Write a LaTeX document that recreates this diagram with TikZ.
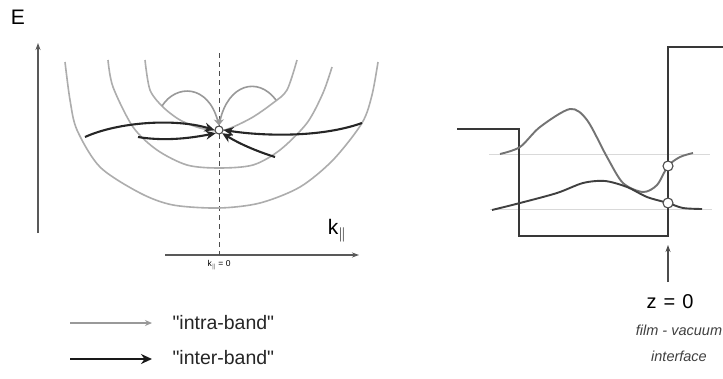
\documentclass[tikz,border=0pt]{standalone}
\usepackage{fontspec}
\setmainfont{Liberation Sans}
\usetikzlibrary{arrows.meta,positioning}

\begin{document}
\begin{tikzpicture}[
    x=1pt, y=-1pt,
    band/.style={draw=black!32, line width=1.6pt},
    intra/.style={draw=black!40, line width=1.6pt, -{Stealth[length=7pt,width=7pt]}},
    inter/.style={draw=black!85, line width=2.1pt, -{Stealth[length=10pt,width=9pt]}},
    axis/.style={draw=black!65, line width=1.1pt, -{Stealth[length=7pt,width=5pt]}},
    well/.style={draw=black!78, line width=2.5pt},
    wave/.style={line width=1.9pt},
    level/.style={draw=black!15, line width=0.9pt},
    dot/.style={circle, draw=black!70, fill=white, line width=1.1pt, inner sep=0pt, minimum size=#1},
    dot/.default=9pt,
    big/.style={font=\fontsize{20}{22}\selectfont},
    legend/.style={font=\fontsize{19.5}{21}\selectfont, anchor=west, text=black!85}
]
\useasboundingbox[fill=white] (0,0) rectangle (723,378);

% --- band structure E(k)
\coordinate (eo) at (38,233);
\coordinate (et) at (38,43);
\coordinate (ko) at (165,255);
\coordinate (kt) at (359,255);
\draw[axis] (eo) -- (et);
\draw[axis] (ko) -- (kt);
\node[font=\fontsize{21}{23}\selectfont] (elabel) at (18,17) {E};
\node[font=\fontsize{21}{23}\selectfont] (klabel) at (337,231) {k$_{\|}$};
\node[font=\fontsize{8.5}{9}\selectfont, below=2pt of ko, xshift=54pt] (kzero) {k$_{\|}$ = 0};

\coordinate (dtop) at (219,53);
\coordinate (dbot) at (219,255);
\draw[black!70, line width=1pt, dash pattern=on 5pt off 4pt] (dtop) -- (dbot);

\draw[band] plot[smooth] coordinates {(65,62) (70,100) (77,130) (100,167) (140,193) (173,205) (219,208) (260,203) (300,187) (333,160) (362,123) (372,95) (378,62)};
\draw[band] plot[smooth] coordinates {(108,60) (113,87) (133,127) (157,150) (187,165) (219,168) (253,165) (280,150) (307,123) (323,93) (332,67)};
\draw[band] plot[smooth] coordinates {(145,60) (150,90) (163,107) (180,120) (200,128) (219,131) (233,127) (253,117) (273,103) (287,90) (297,60)};

\node[dot=8pt] (ctr) at (219,130) {};

% intra-band
\coordinate (l1) at (162,106);
\coordinate (r1) at (276,100);
\draw[intra] (l1) .. controls (176,84) and (208,84) .. (ctr.north);
\draw[intra] (r1) .. controls (258,76) and (228,84) .. (ctr.north);

% inter-band
\coordinate (a1) at (85,137);
\coordinate (a2) at (138,137);
\coordinate (b1) at (362,123);
\coordinate (b2) at (275,157);
\draw[inter] (a1) .. controls (118,122) and (175,118) .. (ctr.west);
\draw[inter] (a2) .. controls (168,142) and (196,137) .. (ctr.south west);
\draw[inter] (b1) .. controls (320,138) and (262,136) .. (ctr.east);
\draw[inter] (b2) .. controls (256,151) and (240,144) .. (ctr.south east);

% --- legend
\coordinate (ga) at (70,323);
\coordinate (gb) at (152,323);
\coordinate (ba) at (70,359);
\coordinate (bb) at (152,359);
\draw[draw=black!40, line width=1.6pt, -{Stealth[length=7pt,width=6pt]}] (ga) -- (gb);
\draw[draw=black!90, line width=2.6pt, -{Stealth[length=11pt,width=10pt]}] (ba) -- (bb);
\node[legend] (intratxt) at (169,323) {\textquotedbl intra-band\textquotedbl};
\node[legend] (intertxt) at (169,358) {\textquotedbl inter-band\textquotedbl};

% --- quantum well
\draw[level] (489,154) -- (710,154);
\draw[level] (490,209) -- (712,209);
\draw[well] (457,129) -- (519,129) -- (519,236) -- (668,236) -- (668,47) -- (723,47);

\draw[wave, black!55] plot[smooth] coordinates {(500,154) (520,147) (540,127) (570,109) (587,120) (607,157) (623,183) (643,192) (657,185) (668,166) (680,157) (693,153)};
\draw[wave, black!75] plot[smooth] coordinates {(492,210) (520,203) (557,193) (583,183) (605,181) (627,187) (647,197) (668,203) (683,208) (702,209)};

\node[dot=10pt] (up) at (668,166) {};
\node[dot=10pt] (lo) at (668,203) {};

\coordinate (zt) at (668,282);
\coordinate (zh) at (668,245);
\draw[draw=black!70, line width=1.1pt, -{Stealth[length=7pt,width=5pt]}] (zt) -- (zh);
\node[big] (zlabel) at (670,302) {z\hspace{0.35em}=\hspace{0.35em}0};
\node[font=\fontsize{14.5}{26}\selectfont\itshape, align=center, text=black!75] (iface) at (679,343) {film - vacuum\\interface};
\end{tikzpicture}
\end{document}
